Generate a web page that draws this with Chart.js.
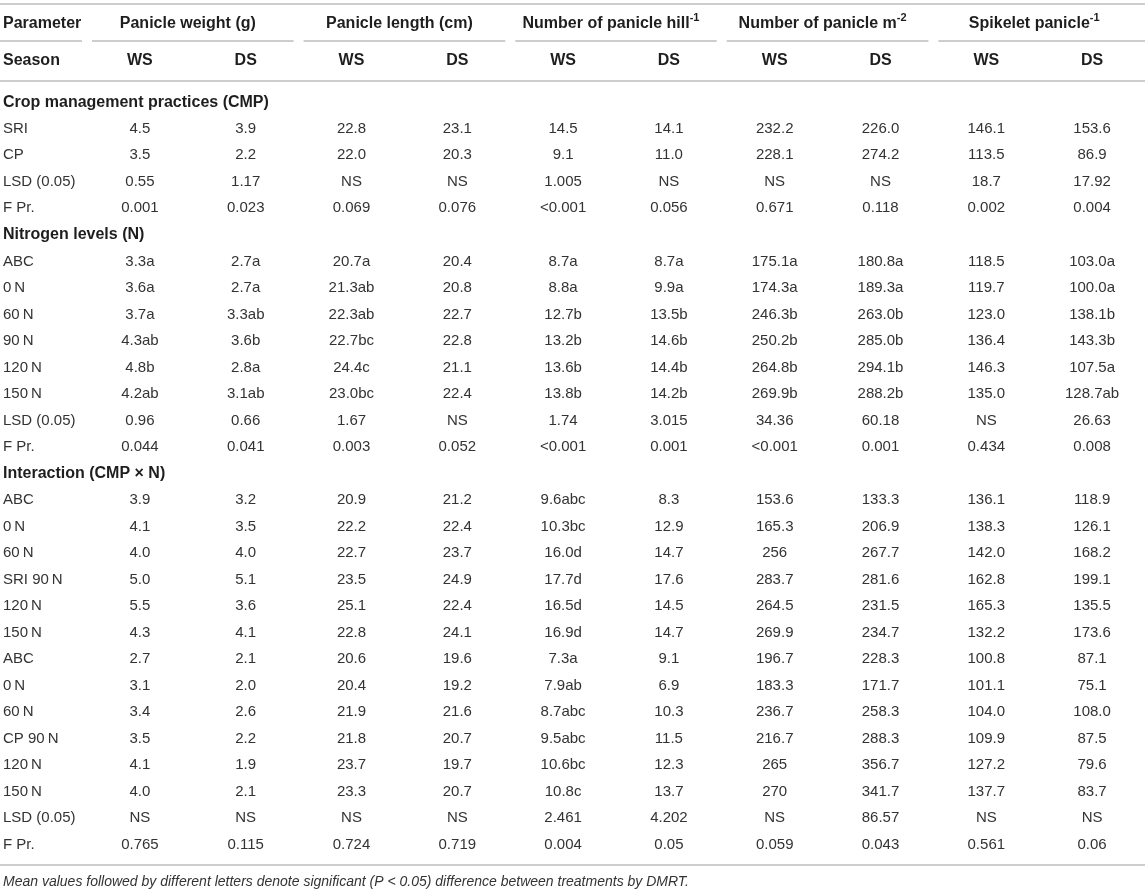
<!DOCTYPE html>
<html>
<head>
<meta charset="utf-8">
<title>Panicle traits by CMP and nitrogen level</title>
<script src="https://cdn.jsdelivr.net/npm/chart.js@4.4.1/dist/chart.umd.min.js"></script>
<style>
  html, body { margin: 0; padding: 0; background: #fff; }
  canvas { display: block; }
</style>
</head>
<body>
<canvas id="tableChart" width="1145" height="894"></canvas>
<script>
// Table content
const sectionTitles = ['Crop management practices (CMP)', 'Nitrogen levels (N)', 'Interaction (CMP \u00d7 N)'];
const cmpRows = ['SRI', 'CP', 'LSD (0.05)', 'F Pr.'];
const nitrogenRows = ['ABC', '0\u2009N', '60\u2009N', '90\u2009N', '120\u2009N', '150\u2009N', 'LSD (0.05)', 'F Pr.'];
const interactionRows = ['ABC', '0\u2009N', '60\u2009N', 'SRI 90\u2009N', '120\u2009N', '150\u2009N',
                         'ABC', '0\u2009N', '60\u2009N', 'CP 90\u2009N', '120\u2009N', '150\u2009N', 'LSD (0.05)', 'F Pr.'];

const groupTitles = ['Panicle weight (g)', 'Panicle length (cm)', 'Number of panicle hill', 'Number of panicle m', 'Spikelet panicle'];
const groupSuperscripts = ['', '', '-1', '-2', '-1'];
const seasonLabels = ['WS', 'DS'];
const columnKeys = ['pwWS', 'pwDS', 'plWS', 'plDS', 'hillWS', 'hillDS', 'm2WS', 'm2DS', 'spWS', 'spDS'];

// values per column: CMP rows, then nitrogen rows, then interaction rows
const panicleWeightWS = ['4.5', '3.5', '0.55', '0.001',
  '3.3a', '3.6a', '3.7a', '4.3ab', '4.8b', '4.2ab', '0.96', '0.044',
  '3.9', '4.1', '4.0', '5.0', '5.5', '4.3', '2.7', '3.1', '3.4', '3.5', '4.1', '4.0', 'NS', '0.765'];
const panicleWeightDS = ['3.9', '2.2', '1.17', '0.023',
  '2.7a', '2.7a', '3.3ab', '3.6b', '2.8a', '3.1ab', '0.66', '0.041',
  '3.2', '3.5', '4.0', '5.1', '3.6', '4.1', '2.1', '2.0', '2.6', '2.2', '1.9', '2.1', 'NS', '0.115'];
const panicleLengthWS = ['22.8', '22.0', 'NS', '0.069',
  '20.7a', '21.3ab', '22.3ab', '22.7bc', '24.4c', '23.0bc', '1.67', '0.003',
  '20.9', '22.2', '22.7', '23.5', '25.1', '22.8', '20.6', '20.4', '21.9', '21.8', '23.7', '23.3', 'NS', '0.724'];
const panicleLengthDS = ['23.1', '20.3', 'NS', '0.076',
  '20.4', '20.8', '22.7', '22.8', '21.1', '22.4', 'NS', '0.052',
  '21.2', '22.4', '23.7', '24.9', '22.4', '24.1', '19.6', '19.2', '21.6', '20.7', '19.7', '20.7', 'NS', '0.719'];
const panicleHillWS = ['14.5', '9.1', '1.005', '<0.001',
  '8.7a', '8.8a', '12.7b', '13.2b', '13.6b', '13.8b', '1.74', '<0.001',
  '9.6abc', '10.3bc', '16.0d', '17.7d', '16.5d', '16.9d', '7.3a', '7.9ab', '8.7abc', '9.5abc', '10.6bc', '10.8c', '2.461', '0.004'];
const panicleHillDS = ['14.1', '11.0', 'NS', '0.056',
  '8.7a', '9.9a', '13.5b', '14.6b', '14.4b', '14.2b', '3.015', '0.001',
  '8.3', '12.9', '14.7', '17.6', '14.5', '14.7', '9.1', '6.9', '10.3', '11.5', '12.3', '13.7', '4.202', '0.05'];
const panicleM2WS = ['232.2', '228.1', 'NS', '0.671',
  '175.1a', '174.3a', '246.3b', '250.2b', '264.8b', '269.9b', '34.36', '<0.001',
  '153.6', '165.3', '256', '283.7', '264.5', '269.9', '196.7', '183.3', '236.7', '216.7', '265', '270', 'NS', '0.059'];
const panicleM2DS = ['226.0', '274.2', 'NS', '0.118',
  '180.8a', '189.3a', '263.0b', '285.0b', '294.1b', '288.2b', '60.18', '0.001',
  '133.3', '206.9', '267.7', '281.6', '231.5', '234.7', '228.3', '171.7', '258.3', '288.3', '356.7', '341.7', '86.57', '0.043'];
const spikeletWS = ['146.1', '113.5', '18.7', '0.002',
  '118.5', '119.7', '123.0', '136.4', '146.3', '135.0', 'NS', '0.434',
  '136.1', '138.3', '142.0', '162.8', '165.3', '132.2', '100.8', '101.1', '104.0', '109.9', '127.2', '137.7', 'NS', '0.561'];
const spikeletDS = ['153.6', '86.9', '17.92', '0.004',
  '103.0a', '100.0a', '138.1b', '143.3b', '107.5a', '128.7ab', '26.63', '0.008',
  '118.9', '126.1', '168.2', '199.1', '135.5', '173.6', '87.1', '75.1', '108.0', '87.5', '79.6', '83.7', 'NS', '0.06'];

const footnote = 'Mean values followed by different letters denote significant (P < 0.05) difference between treatments by DMRT.';

const columnValues = [panicleWeightWS, panicleWeightDS, panicleLengthWS, panicleLengthDS,
  panicleHillWS, panicleHillDS, panicleM2WS, panicleM2DS, spikeletWS, spikeletDS];

// Row layout: section title rows + data rows, one y slot each
const rowLayout = [];
const dataRowSlots = [];
[cmpRows, nitrogenRows, interactionRows].forEach((rows, s) => {
  rowLayout.push({ kind: 'section', text: sectionTitles[s] });
  rows.forEach(label => {
    dataRowSlots.push(rowLayout.length);
    rowLayout.push({ kind: 'data', text: label });
  });
});

const FONT = '"Liberation Sans", Arial, Helvetica, sans-serif';
const LINE_COLOR = '#bcbcbc';

const tableTextPlugin = {
  id: 'tableText',
  afterDatasetsDraw(chart) {
    const ctx = chart.ctx;
    const { left, right, top, bottom } = chart.chartArea;
    const xs = chart.scales.x;
    const ys = chart.scales.y;
    const halfCol = (xs.getPixelForValue(1) - xs.getPixelForValue(0)) / 2;

    ctx.save();
    ctx.textBaseline = 'middle';

    // rules
    ctx.strokeStyle = LINE_COLOR;
    ctx.lineWidth = 1.5;
    const hline = (x0, x1, y) => {
      ctx.beginPath();
      ctx.moveTo(x0, y);
      ctx.lineTo(x1, y);
      ctx.stroke();
    };
    hline(0, chart.width, top - 85);
    hline(0, left - 5, top - 48);
    groupTitles.forEach((t, g) => {
      const x0 = xs.getPixelForValue(g * 2) - halfCol + 5;
      const x1 = g === groupTitles.length - 1 ? chart.width : xs.getPixelForValue(g * 2 + 1) + halfCol - 5;
      hline(x0, x1, top - 48);
    });
    hline(0, chart.width, top - 8);
    hline(0, chart.width, bottom + 7);

    // header row 1
    const row1Y = top - 65;
    const row2Y = top - 28;
    ctx.fillStyle = '#1e1e1e';
    ctx.font = 'bold 16px ' + FONT;
    ctx.textAlign = 'left';
    ctx.fillText('Parameter', 3, row1Y);
    ctx.fillText('Season', 3, row2Y);
    groupTitles.forEach((t, g) => {
      const cx = (xs.getPixelForValue(g * 2) + xs.getPixelForValue(g * 2 + 1)) / 2 - 5;
      ctx.font = 'bold 16px ' + FONT;
      const w1 = ctx.measureText(t).width;
      ctx.font = 'bold 11px ' + FONT;
      const w2 = groupSuperscripts[g] ? ctx.measureText(groupSuperscripts[g]).width : 0;
      const x0 = cx - (w1 + w2) / 2;
      ctx.font = 'bold 16px ' + FONT;
      ctx.fillText(t, x0, row1Y);
      if (w2) {
        ctx.font = 'bold 11px ' + FONT;
        ctx.fillText(groupSuperscripts[g], x0 + w1, row1Y - 6);
      }
    });

    // header row 2
    ctx.font = 'bold 16px ' + FONT;
    ctx.textAlign = 'center';
    columnKeys.forEach((k, c) => {
      ctx.fillText(seasonLabels[c % 2], xs.getPixelForValue(c), row2Y);
    });

    // row labels and section titles
    ctx.textAlign = 'left';
    rowLayout.forEach((row, r) => {
      const py = ys.getPixelForValue(r);
      if (row.kind === 'section') {
        ctx.font = 'bold 16px ' + FONT;
        ctx.fillStyle = '#1e1e1e';
      } else {
        ctx.font = '15px ' + FONT;
        ctx.fillStyle = '#333333';
      }
      ctx.fillText(row.text, 3, py);
    });

    // cell values, placed on the dataset points
    ctx.font = '15px ' + FONT;
    ctx.fillStyle = '#333333';
    ctx.textAlign = 'center';
    chart.data.datasets.forEach((ds, di) => {
      const meta = chart.getDatasetMeta(di);
      meta.data.forEach((pt, i) => {
        ctx.fillText(ds.values[i], pt.x, pt.y);
      });
    });

    // footnote
    ctx.font = 'italic 14px ' + FONT;
    ctx.fillStyle = '#333333';
    ctx.textAlign = 'left';
    ctx.fillText(footnote, 3, bottom + 24);

    ctx.restore();
  }
};

const datasets = columnKeys.map((key, c) => ({
  label: key,
  values: columnValues[c],
  data: dataRowSlots.map(slot => ({ x: key, y: slot })),
  pointRadius: 0,
  showLine: false
}));

new Chart(document.getElementById('tableChart'), {
  type: 'scatter',
  data: { datasets },
  options: {
    responsive: false,
    animation: false,
    events: [],
    layout: { padding: { left: 87, right: 0, top: 89, bottom: 36 } },
    plugins: {
      legend: { display: false },
      tooltip: { enabled: false }
    },
    scales: {
      x: { type: 'category', labels: columnKeys, offset: true, display: false },
      y: { type: 'linear', min: -0.5, max: rowLayout.length - 0.5, reverse: true, display: false }
    }
  },
  plugins: [tableTextPlugin]
});
</script>
</body>
</html>
